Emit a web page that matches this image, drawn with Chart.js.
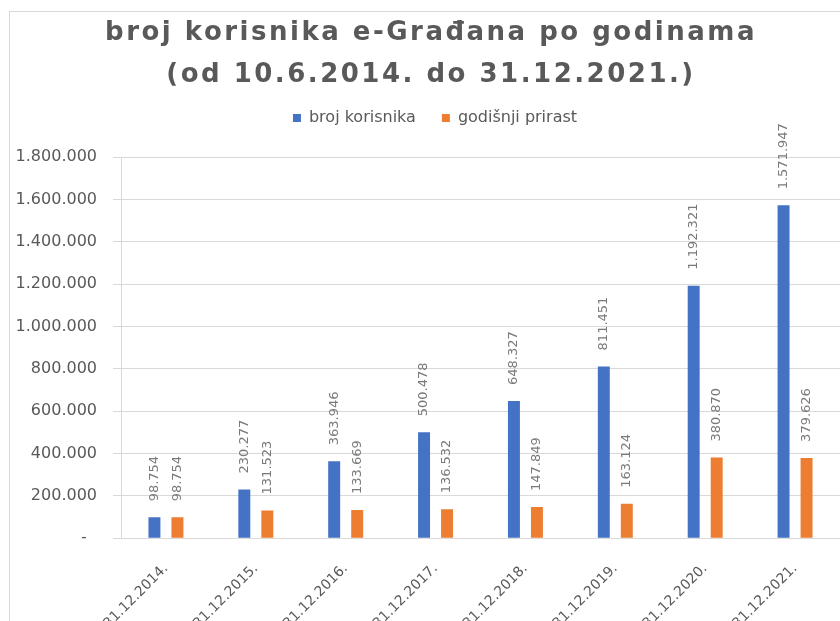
<!DOCTYPE html>
<html>
<head>
<meta charset="utf-8">
<script src="https://cdn.jsdelivr.net/npm/chart.js@4"></script>
<style>
    html, body { margin: 0; padding: 0; background: #fff; overflow: hidden; }
    #frame {
        position: absolute; left: 9px; top: 11px;
        width: 840px; height: 660px;
        border-left: 1px solid #d9d9d9; border-top: 1px solid #d9d9d9;
    }
    #wrap { position: absolute; left: 0; top: 0; width: 830px; height: 634px; }
</style>
</head>
<body>
<div id="frame"><div id="wrap"><canvas id="usersChart"></canvas></div></div>
<script>
// Podaci
const datumi = ['31.12.2014.', '31.12.2015.', '31.12.2016.', '31.12.2017.',
                '31.12.2018.', '31.12.2019.', '31.12.2020.', '31.12.2021.'];
const brojKorisnika = [98754, 230277, 363946, 500478, 648327, 811451, 1192321, 1571947];
const godisnjiPrirast = [98754, 131523, 133669, 136532, 147849, 163124, 380870, 379626];
const naslov = ['broj korisnika e-Građana po godinama', '(od 10.6.2014. do 31.12.2021.)'];

function formatBroj(v) {
    return String(v).replace(/\B(?=(\d{3})+(?!\d))/g, '.');
}

// Vrijednosti iznad stupaca (okomito)
const oznakePlugin = {
    id: 'oznake',
    afterDatasetsDraw(chart) {
        const ctx = chart.ctx;
        chart.data.datasets.forEach((ds, i) => {
            const meta = chart.getDatasetMeta(i);
            meta.data.forEach((bar, j) => {
                ctx.save();
                ctx.translate(bar.x, bar.y - 16);
                ctx.rotate(-Math.PI / 2);
                ctx.font = '13px "DejaVu Sans"';
                ctx.fillStyle = '#7a7a7a';
                ctx.textAlign = 'left';
                ctx.textBaseline = 'middle';
                ctx.fillText(formatBroj(ds.data[j]), 0, 0);
                ctx.restore();
            });
        });
    }
};

// Razmak ispod legende, pomak legende i razmak slova u naslovu
const rasporedPlugin = {
    id: 'raspored',
    beforeInit(chart) {
        const legend = chart.legend;
        const fit = legend.fit;
        legend.fit = function() {
            fit.bind(legend)();
            this.height += 21;
        };
        const legendDraw = legend.draw;
        legend.draw = function() {
            this.ctx.save();
            this.ctx.translate(10, 0);
            legendDraw.call(this);
            this.ctx.restore();
        };
        const titleDraw = chart.titleBlock.draw;
        chart.titleBlock.draw = function() {
            const c = this.ctx;
            c.save();
            c.translate(6, 0);
            c.letterSpacing = '2.5px';
            titleDraw.call(this);
            c.letterSpacing = '0px';
            c.restore();
        };
    }
};

const ctx = document.getElementById('usersChart').getContext('2d');
const usersChart = new Chart(ctx, {
    type: 'bar',
    data: {
        labels: datumi,
        datasets: [{
            label: 'broj korisnika',
            data: brojKorisnika,
            backgroundColor: '#4472C4',
            categoryPercentage: 0.512,
            barPercentage: 0.52
        }, {
            label: 'godišnji prirast',
            data: godisnjiPrirast,
            backgroundColor: '#ED7D31',
            categoryPercentage: 0.512,
            barPercentage: 0.52
        }]
    },
    options: {
        responsive: true,
        maintainAspectRatio: false,
        animation: false,
        layout: { padding: 0 },
        plugins: {
            title: {
                display: true,
                text: naslov,
                color: '#595959',
                font: { family: '"DejaVu Sans"', size: 26, weight: 'bold', lineHeight: '42px' },
                padding: { top: 0, bottom: -12 }
            },
            legend: {
                position: 'top',
                labels: {
                    boxWidth: 8,
                    boxHeight: 8,
                    padding: 26,
                    color: '#595959',
                    font: { family: '"DejaVu Sans"', size: 16 }
                }
            },
            tooltip: { enabled: false }
        },
        scales: {
            x: {
                grid: { display: false },
                border: { display: true, color: '#d9d9d9' },
                ticks: {
                    minRotation: 45,
                    maxRotation: 45,
                    padding: 14,
                    color: '#595959',
                    font: { family: '"DejaVu Sans"', size: 14 }
                }
            },
            y: {
                min: 0,
                max: 1800000,
                afterFit(scale) { scale.width = 111; },
                grid: { color: '#d9d9d9', tickLength: 8 },
                border: { display: true, color: '#d9d9d9' },
                ticks: {
                    stepSize: 200000,
                    padding: 16,
                    color: '#595959',
                    font: { family: '"DejaVu Sans"', size: 16 },
                    callback: v => v === 0 ? '-  ' : formatBroj(v)
                }
            }
        }
    },
    plugins: [oznakePlugin, rasporedPlugin]
});
</script>
</body>
</html>
